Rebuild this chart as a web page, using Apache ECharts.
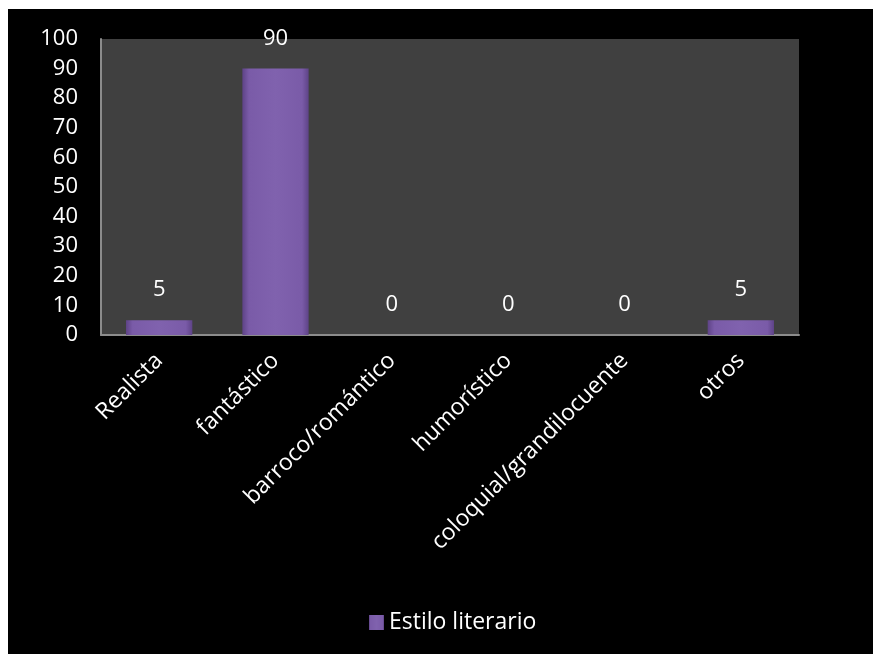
<!DOCTYPE html>
<html>
<head>
<meta charset="utf-8">
<script src="https://cdn.jsdelivr.net/npm/echarts@6/dist/echarts.min.js"></script>
<style>
  html, body { margin: 0; padding: 0; background: #000; overflow: hidden; width: 100%; height: 100%; }
  #chart { position: absolute; left: 8px; top: 9px; width: 865px; height: 645px; background: #000; }
  .edge { position: absolute; background: #fff; }
</style>
</head>
<body>
<div class="edge" style="left:0;top:0;width:100%;height:9px"></div>
<div class="edge" style="left:0;top:0;width:8px;height:100%"></div>
<div id="chart"></div>
<script>
// categories and values
const categories = ['Realista', 'fantástico', 'barroco/romántico', 'humorístico', 'coloquial/grandilocuente', 'otros'];
const values = [5, 90, 0, 0, 0, 5];
const seriesName = 'Estilo literario';

const font = 'Open Sans';
const barFill = new echarts.graphic.LinearGradient(0, 0, 1, 0, [
    { offset: 0, color: '#5e4387' },
    { offset: 0.1, color: '#7a5ba8' },
    { offset: 0.5, color: '#8062ae' },
    { offset: 0.9, color: '#7a5ba8' },
    { offset: 1, color: '#5e4387' }
]);

const chart = echarts.init(document.getElementById('chart'));
chart.setOption({
    backgroundColor: '#000',
    textStyle: { fontFamily: font },
    grid: {
        left: 93, top: 30, right: 74, bottom: 319,
        show: true, backgroundColor: '#404040', borderWidth: 0
    },
    legend: {
        bottom: 15,
        left: 356,
        itemWidth: 15,
        itemHeight: 15,
        itemGap: 7,
        icon: 'rect',
        textStyle: { color: '#fff', fontSize: 23, fontFamily: font },
        data: [seriesName]
    },
    xAxis: {
        type: 'category',
        data: categories,
        axisLine: { lineStyle: { color: '#8c8c8c', width: 2 } },
        axisTick: { show: false },
        axisLabel: {
            color: '#fff',
            fontSize: 23,
            rotate: 45,
            interval: 0,
            margin: 22
        }
    },
    yAxis: {
        type: 'value',
        min: 0,
        max: 100,
        interval: 10,
        axisLine: { show: true, lineStyle: { color: '#8c8c8c', width: 2 } },
        axisTick: { show: false },
        splitLine: { show: false },
        axisLabel: { color: '#fff', fontSize: 22, margin: 23 }
    },
    series: [{
        name: seriesName,
        type: 'bar',
        data: values,
        barWidth: '57%',
        itemStyle: {
            color: barFill,
            borderWidth: 0
        },
        label: {
            show: true,
            position: 'top',
            distance: 19,
            color: '#fff',
            fontSize: 22,
            fontFamily: font
        }
    }]
});
</script>
</body>
</html>
